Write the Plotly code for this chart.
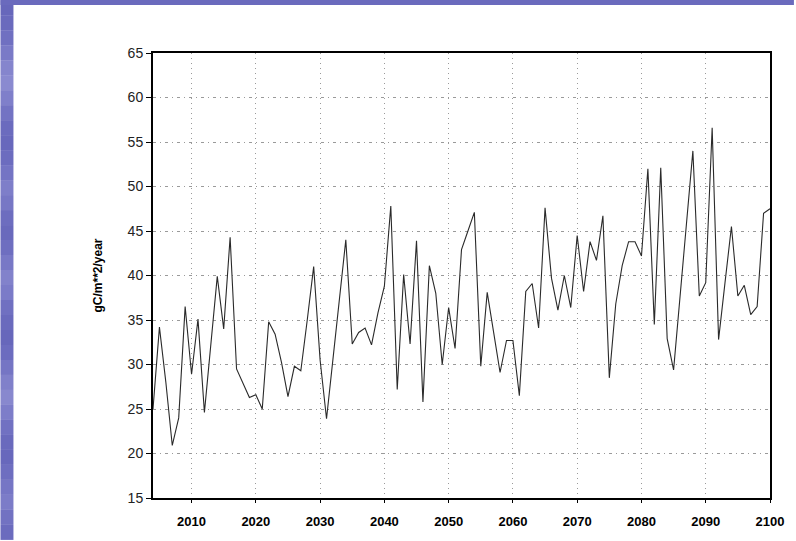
import plotly.graph_objects as go

# Annual carbon flux, 2004-2100
years = list(range(2004, 2101))
flux = [
    25.0, 34.2, 28.0, 20.9, 24.0, 36.5, 28.9, 35.1, 24.6, 32.0,   # 2004-2013
    39.9, 34.0, 44.3, 29.5, 27.8, 26.3, 26.6, 25.0, 34.8, 33.4,   # 2014-2023
    30.2, 26.4, 29.8, 29.3, 35.0, 41.0, 30.5, 23.9, 30.6, 37.4,   # 2024-2033
    44.0, 32.3, 33.6, 34.1, 32.2, 35.8, 38.8, 47.8, 27.2, 40.1,   # 2034-2043
    32.3, 43.9, 25.8, 41.1, 38.0, 30.0, 36.4, 31.8, 42.9, 45.0,   # 2044-2053
    47.1, 29.8, 38.1, 33.6, 29.1, 32.7, 32.7, 26.5, 38.2, 39.1,   # 2054-2063
    34.1, 47.6, 39.7, 36.1, 40.0, 36.4, 44.5, 38.2, 43.8, 41.7,   # 2064-2073
    46.7, 28.5, 36.8, 41.1, 43.8, 43.8, 42.2, 52.0, 34.5, 52.1,   # 2074-2083
    32.9, 29.4, 37.5, 45.5, 54.0, 37.7, 39.2, 56.6, 32.8, 39.2,   # 2084-2093
    45.5, 37.7, 38.9, 35.6, 36.5, 47.0, 47.5,                     # 2094-2100
]

y_ticks = list(range(15, 70, 5))
x_ticks = list(range(2010, 2110, 10))

W, H = 796, 541
ML, MR, MT, MB = 153, 24, 53, 42
PW, PH = W - ML - MR, H - MT - MB

fig = go.Figure()
fig.add_trace(go.Scatter(
    x=years, y=flux, mode="lines",
    line=dict(color="#2a2a2a", width=1.1),
    hoverinfo="x+y", showlegend=False,
))

# slide decoration: blue band on the left and across the top
def px_x(p):
    return (p - ML) / PW

def px_y(p):
    return 1 - (p - MT) / PH

shapes = []
band_shades = [
    "#6767bb", "#6a6abd", "#7070c1", "#7a7ac7", "#8585cd", "#8a8ad0", "#7f7fca",
    "#7373c3", "#6b6bbe", "#6868bc", "#6c6cbf", "#7474c4", "#7e7ec9", "#7777c5",
    "#6d6dbf", "#6969bc", "#6e6ec0", "#7878c6", "#8282cb", "#7b7bc8", "#7070c1",
    "#6a6abd", "#6767bb", "#6c6cbf", "#7575c4", "#8080ca", "#8888ce", "#7d7dc9",
    "#7171c2", "#6a6abd", "#6868bc", "#6e6ec0", "#7676c5", "#7c7cc8", "#7272c2",
    "#6b6bbe",
]
n = len(band_shades)
for i, c in enumerate(band_shades):
    shapes.append(dict(type="rect", xref="paper", yref="paper",
                       x0=px_x(0), x1=px_x(13),
                       y0=px_y(H * (i + 1) / n), y1=px_y(H * i / n),
                       fillcolor=c, line=dict(width=0), layer="below"))
shapes.append(dict(type="rect", xref="paper", yref="paper",
                   x0=px_x(0), x1=px_x(W), y0=px_y(5), y1=px_y(0),
                   fillcolor="#6a6abd", line=dict(width=0), layer="below"))

fig.update_layout(
    width=W, height=H,
    margin=dict(l=ML, r=MR, t=MT, b=MB, pad=0),
    paper_bgcolor="white", plot_bgcolor="white",
    shapes=shapes,
    font=dict(family="Arial, Liberation Sans, sans-serif", color="#111"),
    xaxis=dict(
        range=[2004, 2100], tickvals=x_ticks,
        tickfont=dict(size=13, color="#000", weight="bold"),
        ticks="outside", ticklen=3, tickcolor="#000",
        showline=True, linecolor="#000", linewidth=2, mirror=True,
        showgrid=True, gridcolor="#9a9a9a", gridwidth=1, griddash="1px,4px",
        zeroline=False, ticklabelstandoff=7,
    ),
    yaxis=dict(
        range=[15, 65], tickvals=y_ticks,
        tickfont=dict(size=14, color="#222"),
        ticks="outside", ticklen=5, tickcolor="#000",
        showline=True, linecolor="#000", linewidth=2, mirror=True,
        showgrid=True, gridcolor="#9a9a9a", gridwidth=1, griddash="3px,4px,1px,4px",
        zeroline=False,
        title=dict(text="gC/m**2/year", font=dict(size=12, color="#000", weight="bold"),
                   standoff=22),
    ),
)

fig.write_html("out.html")
